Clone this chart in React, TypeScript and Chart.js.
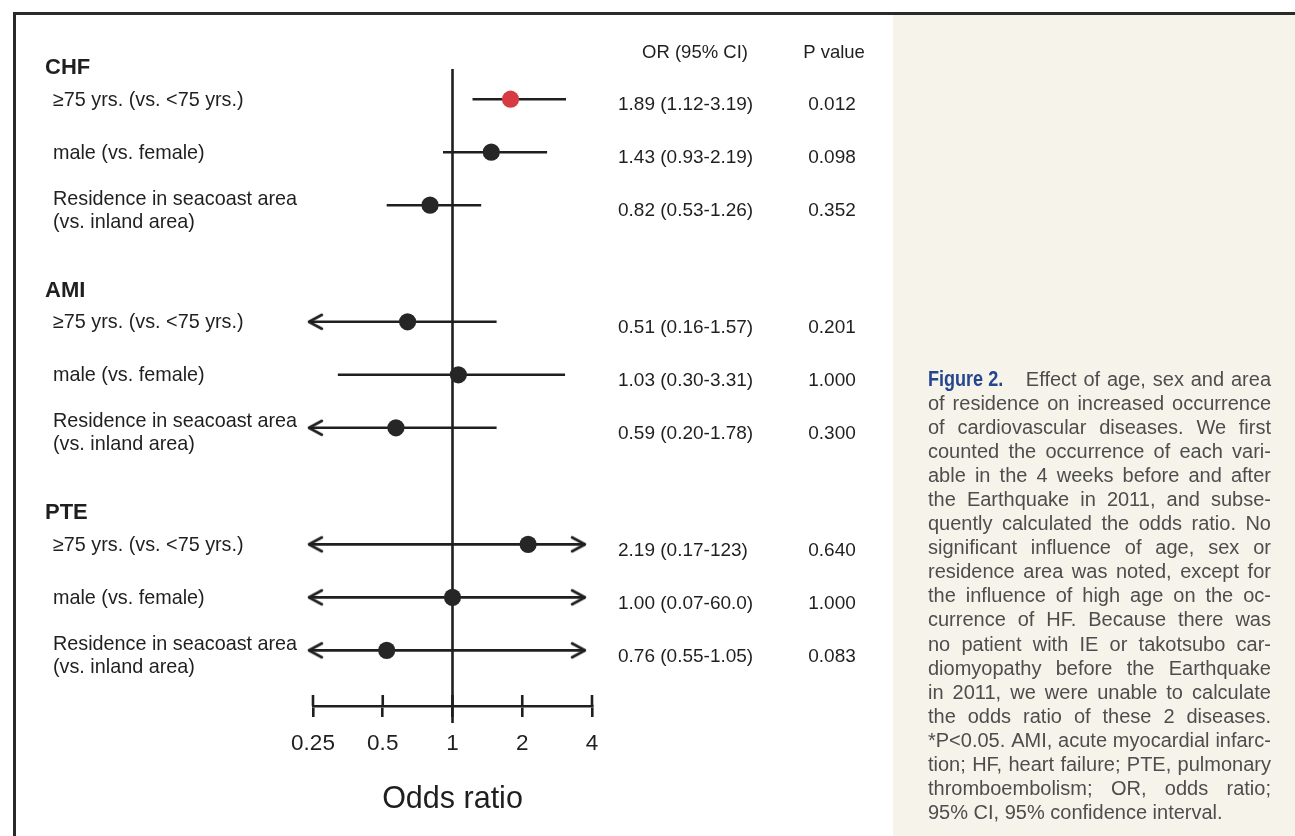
import React, { useEffect, useRef } from 'react';
import { Chart, registerables } from 'chart.js';

Chart.register(...registerables);

// ---------------- data ----------------
const groups = ['CHF', 'AMI', 'PTE'];
const factorLabels: string[][] = [
  ['≥75 yrs. (vs. <75 yrs.)'],
  ['male (vs. female)'],
  ['Residence in seacoast area', '(vs. inland area)'],
];
const orTexts = [
  '1.89 (1.12-3.19)',
  '1.43 (0.93-2.19)',
  '0.82 (0.53-1.26)',
  '0.51 (0.16-1.57)',
  '1.03 (0.30-3.31)',
  '0.59 (0.20-1.78)',
  '2.19 (0.17-123)',
  '1.00 (0.07-60.0)',
  '0.76 (0.55-1.05)',
];
const pValues = ['0.012', '0.098', '0.352', '0.201', '1.000', '0.300', '0.640', '1.000', '0.083'];
// positions of the marks as drawn in the figure (odds-ratio units)
const pointEstimates = [1.78, 1.47, 0.8, 0.64, 1.06, 0.57, 2.12, 1.0, 0.52];
const ciLower = [1.22, 0.91, 0.52, 0.24, 0.32, 0.24, 0.24, 0.24, 0.24];
const ciUpper = [3.09, 2.56, 1.33, 1.55, 3.06, 1.55, 3.73, 3.73, 3.73];
const lowerArrow = [false, false, false, true, false, true, true, true, true];
const upperArrow = [false, false, false, false, false, false, true, true, true];
const xTicks = [0.25, 0.5, 1, 2, 4];
const xTickLabels = ['0.25', '0.5', '1', '2', '4'];
const xTitle = 'Odds ratio';
const colHeaders = ['OR (95% CI)', 'P value'];
const captionLead = 'Figure 2.';
const captionLines = [
  'Effect of age, sex and area',
  'of residence on increased occurrence',
  'of cardiovascular diseases. We first',
  'counted the occurrence of each vari-',
  'able in the 4 weeks before and after',
  'the Earthquake in 2011, and subse-',
  'quently calculated the odds ratio. No',
  'significant influence of age, sex or',
  'residence area was noted, except for',
  'the influence of high age on the oc-',
  'currence of HF. Because there was',
  'no patient with IE or takotsubo car-',
  'diomyopathy before the Earthquake',
  'in 2011, we were unable to calculate',
  'the odds ratio of these 2 diseases.',
  '*P<0.05. AMI, acute myocardial infarc-',
  'tion; HF, heart failure; PTE, pulmonary',
  'thromboembolism; OR, odds ratio;',
  '95% CI, 95% confidence interval.',
];

// ---------------- style ----------------
const FONT = '"Liberation Sans", Arial, Helvetica, sans-serif';
const INK = '#1f1f1f';
const RED = '#d63a43';
const GROUP_GAP = 1.2;
const PER_GROUP = 3;

function rowPos(i: number) {
  const g = Math.floor(i / PER_GROUP);
  const k = i % PER_GROUP;
  return g * (PER_GROUP + GROUP_GAP) + k;
}

function makeChevron(dir: number) {
  const c = document.createElement('canvas');
  c.width = 34;
  c.height = 22;
  const ctx = c.getContext('2d') as CanvasRenderingContext2D;
  ctx.strokeStyle = INK;
  ctx.lineWidth = 2.6;
  ctx.lineCap = 'round';
  ctx.lineJoin = 'round';
  const cx = 17;
  const cy = 11;
  ctx.beginPath();
  ctx.moveTo(cx + dir * 13, cy - 7);
  ctx.lineTo(cx, cy);
  ctx.lineTo(cx + dir * 13, cy + 7);
  ctx.stroke();
  return c;
}

const axisPlugin = {
  id: 'forestAxisExtras',
  beforeDatasetsDraw(chart: any) {
    const { ctx, chartArea } = chart;
    const x = chart.scales.x;
    ctx.save();
    ctx.strokeStyle = INK;
    ctx.lineWidth = 2.6;
    const px = x.getPixelForValue(1);
    ctx.beginPath();
    ctx.moveTo(px, chartArea.top);
    ctx.lineTo(px, chartArea.bottom + 17);
    ctx.stroke();
    xTicks.forEach((v) => {
      const p = x.getPixelForValue(v);
      ctx.beginPath();
      ctx.moveTo(p, chartArea.bottom - 11);
      ctx.lineTo(p, chartArea.bottom);
      ctx.stroke();
    });
    ctx.restore();
  },
};

const textPlugin = {
  id: 'forestText',
  afterDraw(chart: any) {
    const { ctx, chartArea } = chart;
    const y = chart.scales.y;
    ctx.save();
    ctx.fillStyle = INK;
    ctx.textBaseline = 'middle';

    ctx.font = `18.5px ${FONT}`;
    ctx.textAlign = 'center';
    ctx.fillText(colHeaders[0], 695, chartArea.top - 16);
    ctx.fillText(colHeaders[1], 834, chartArea.top - 16);

    groups.forEach((g, gi) => {
      const first = y.getPixelForValue(rowPos(gi * PER_GROUP));
      ctx.font = `bold 22px ${FONT}`;
      ctx.textAlign = 'left';
      ctx.fillText(g, 45, first - 31);
    });

    pointEstimates.forEach((_, i) => {
      const py = y.getPixelForValue(rowPos(i));
      const lines = factorLabels[i % PER_GROUP];
      ctx.font = `19.8px ${FONT}`;
      ctx.textAlign = 'left';
      if (lines.length === 1) {
        ctx.fillText(lines[0], 53, py + 1);
      } else {
        ctx.fillText(lines[0], 53, py - 6);
        ctx.fillText(lines[1], 53, py + 17);
      }
      ctx.font = `19px ${FONT}`;
      ctx.textAlign = 'left';
      ctx.fillText(orTexts[i], 618, py + 6);
      ctx.textAlign = 'center';
      ctx.fillText(pValues[i], 832, py + 6);
    });
    ctx.restore();
  },
};

export default function App() {
  const ref = useRef<HTMLCanvasElement>(null);

  useEffect(() => {
    const canvas = ref.current as HTMLCanvasElement;
    const leftHead = makeChevron(1);
    const rightHead = makeChevron(-1);
    const rows = pointEstimates.map((_, i) => rowPos(i));

    const ciSets = rows.map((r, i) => ({
      data: [
        { x: ciLower[i], y: r },
        { x: ciUpper[i], y: r },
      ],
      showLine: true,
      borderColor: INK,
      borderWidth: 2.6,
      pointRadius: 0,
      clip: false,
      order: 3,
    }));

    // one dataset per arrow head so none is culled as "outside the visible range"
    const arrowSets: any[] = [];
    rows.forEach((r, i) => {
      if (lowerArrow[i]) {
        arrowSets.push({ data: [{ x: ciLower[i], y: r }], pointStyle: leftHead, pointRadius: 9, clip: false, order: 2 });
      }
      if (upperArrow[i]) {
        arrowSets.push({ data: [{ x: ciUpper[i], y: r }], pointStyle: rightHead, pointRadius: 9, clip: false, order: 2 });
      }
    });

    const colors = pValues.map((p) => (parseFloat(p) < 0.05 ? RED : '#262626'));
    const points = {
      data: rows.map((r, i) => ({ x: pointEstimates[i], y: r })),
      pointRadius: 8.6,
      pointBackgroundColor: colors,
      pointBorderColor: colors,
      pointBorderWidth: 0,
      clip: false,
      order: 0,
    };

    const chart = new Chart(canvas, {
      type: 'scatter',
      data: { datasets: [points, ...arrowSets, ...ciSets] as any },
      options: {
        responsive: false,
        maintainAspectRatio: false,
        animation: false,
        events: [],
        devicePixelRatio: 1,
        layout: { padding: { left: 313, right: 703, top: 69, bottom: 0 } },
        plugins: { legend: { display: false }, tooltip: { enabled: false } },
        scales: {
          x: {
            type: 'logarithmic',
            min: 0.25,
            max: 4,
            bounds: 'data',
            afterBuildTicks: (s: any) => {
              s.ticks = xTicks.map((v) => ({ value: v }));
            },
            afterFit: (s: any) => {
              s.height = 130;
            },
            ticks: {
              autoSkip: false,
              maxRotation: 0,
              padding: 13,
              color: INK,
              font: { family: FONT, size: 22.5 },
              callback: (_v: any, idx: number) => xTickLabels[idx],
            },
            grid: {
              drawOnChartArea: false,
              drawTicks: true,
              tickLength: 11,
              color: INK,
              lineWidth: 2.6,
            },
            border: { display: true, color: INK, width: 2.6 },
            title: {
              display: true,
              text: xTitle,
              color: INK,
              font: { family: FONT, size: 30.5 },
              padding: { top: 0, bottom: 18 },
            },
          } as any,
          y: {
            type: 'linear',
            reverse: true,
            min: -0.57,
            max: 11.45,
            bounds: 'data',
            display: false,
          },
        },
      },
      plugins: [axisPlugin, textPlugin],
    } as any);

    return () => chart.destroy();
  }, []);

  return (
    <div
      style={{
        position: 'fixed',
        left: 0,
        top: 0,
        width: 1295,
        height: 836,
        background: '#ffffff',
        overflow: 'hidden',
      }}
    >
      <div style={{ position: 'absolute', left: 893, top: 14, right: 0, bottom: 0, background: '#f6f4ea' }} />
      <div style={{ position: 'absolute', left: 13, top: 12, width: 1282, height: 3, background: '#2a2a2a' }} />
      <div style={{ position: 'absolute', left: 13, top: 12, width: 3, height: 824, background: '#2a2a2a' }} />
      <canvas ref={ref} width={1295} height={836} style={{ position: 'absolute', left: 0, top: 0 }} />
      <div
        style={{
          position: 'absolute',
          left: 928,
          top: 367,
          width: 343,
          fontFamily: FONT,
          fontSize: 20,
          lineHeight: '24.06px',
          color: '#4d4d4d',
        }}
      >
        {captionLines.map((line, i) => {
          const last = i === captionLines.length - 1;
          if (last) {
            return (
              <div key={i} style={{ height: 24.06, whiteSpace: 'nowrap' }}>
                {line}
              </div>
            );
          }
          const words = line.split(' ');
          return (
            <div
              key={i}
              style={{ display: 'flex', justifyContent: 'space-between', whiteSpace: 'nowrap', height: 24.06 }}
            >
              {i === 0 && (
                <span style={{ display: 'inline-block', width: 77, flexShrink: 0, marginRight: 14 }}>
                  <span
                    style={{
                      display: 'inline-block',
                      fontFamily: FONT,
                      fontWeight: 700,
                      fontSize: 22,
                      color: '#24468f',
                      transform: 'scaleX(0.82)',
                      transformOrigin: 'left center',
                      whiteSpace: 'nowrap',
                    }}
                  >
                    {captionLead}
                  </span>
                </span>
              )}
              {words.map((w, j) => (
                <span key={j}>{w}</span>
              ))}
            </div>
          );
        })}
      </div>
    </div>
  );
}
